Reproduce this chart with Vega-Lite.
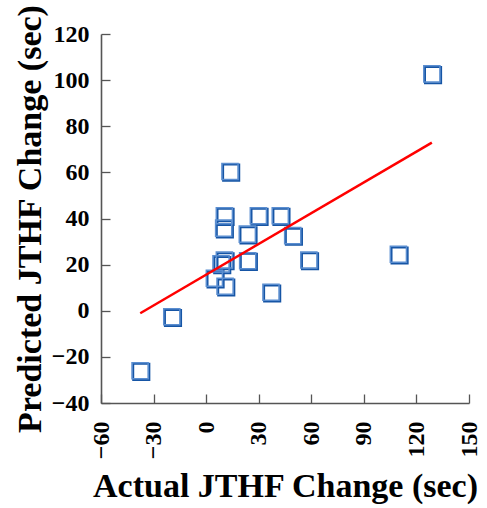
{
  "$schema": "https://vega.github.io/schema/vega-lite/v6.json",
  "autosize": {"type": "none"},
  "padding": {"left": 101, "top": 34, "right": 18, "bottom": 105},
  "width": 368,
  "height": 369,
  "background": "white",
  "config": {
    "view": {"stroke": null},
    "font": "Liberation Serif",
    "axis": {
      "grid": false,
      "domainColor": "#555555",
      "domainWidth": 1.6,
      "tickColor": "#555555",
      "tickWidth": 1.3,
      "tickSize": -9,
      "labelFont": "Liberation Serif",
      "labelFontSize": 24,
      "labelFontWeight": "bold",
      "labelColor": "#000000",
      "titleFont": "Liberation Serif",
      "titleFontSize": 34,
      "titleFontWeight": "bold",
      "titleColor": "#000000"
    }
  },
  "datasets": {
    "points": [
      {"actual": 128.8, "predicted": 102.7},
      {"actual": 109.7, "predicted": 24.5},
      {"actual": 58.6, "predicted": 22.0},
      {"actual": 37.0, "predicted": 8.0},
      {"actual": 49.4, "predicted": 32.6},
      {"actual": 42.3, "predicted": 41.2},
      {"actual": 29.8, "predicted": 41.2},
      {"actual": 23.5, "predicted": 33.2},
      {"actual": 23.7, "predicted": 21.7},
      {"actual": 13.6, "predicted": 60.4},
      {"actual": 10.4, "predicted": 41.2},
      {"actual": 10.0, "predicted": 35.8},
      {"actual": 10.4, "predicted": 22.0},
      {"actual": 8.5, "predicted": 20.3},
      {"actual": 4.7, "predicted": 14.1},
      {"actual": 10.8, "predicted": 10.6},
      {"actual": -19.6, "predicted": -2.6},
      {"actual": -37.7, "predicted": -26.0}
    ],
    "fit": [
      {"actual": -37.6, "predicted": -1.1},
      {"actual": 128.8, "predicted": 72.9}
    ]
  },
  "encoding": {
    "x": {
      "field": "actual",
      "type": "quantitative",
      "scale": {"domain": [-60, 150], "nice": false, "zero": false},
      "axis": {
        "title": "Actual JTHF Change (sec)",
        "values": [-60, -30, 0, 30, 60, 90, 120, 150],
        "labelAngle": 270,
        "labelPadding": 27,
        "titlePadding": 11
      }
    },
    "y": {
      "field": "predicted",
      "type": "quantitative",
      "scale": {"domain": [-40, 120], "nice": false, "zero": false},
      "axis": {
        "title": "Predicted JTHF Change (sec)",
        "values": [-40, -20, 0, 20, 40, 60, 80, 100, 120],
        "labelPadding": 21,
        "titlePadding": 4
      }
    }
  },
  "layer": [
    {
      "data": {"name": "points"},
      "mark": {"type": "point", "shape": "square", "filled": false, "size": 260, "stroke": "#1655a5", "strokeWidth": 2, "xOffset": 1.2, "yOffset": 1.2, "opacity": 1},
      "encoding": {}
    },
    {
      "data": {"name": "points"},
      "mark": {"type": "point", "shape": "square", "filled": false, "size": 260, "stroke": "#5b8ed0", "strokeWidth": 1.5, "opacity": 1},
      "encoding": {}
    },
    {
      "data": {"name": "fit"},
      "mark": {"type": "line", "color": "#ff0000", "strokeWidth": 2.5},
      "encoding": {}
    }
  ]
}
